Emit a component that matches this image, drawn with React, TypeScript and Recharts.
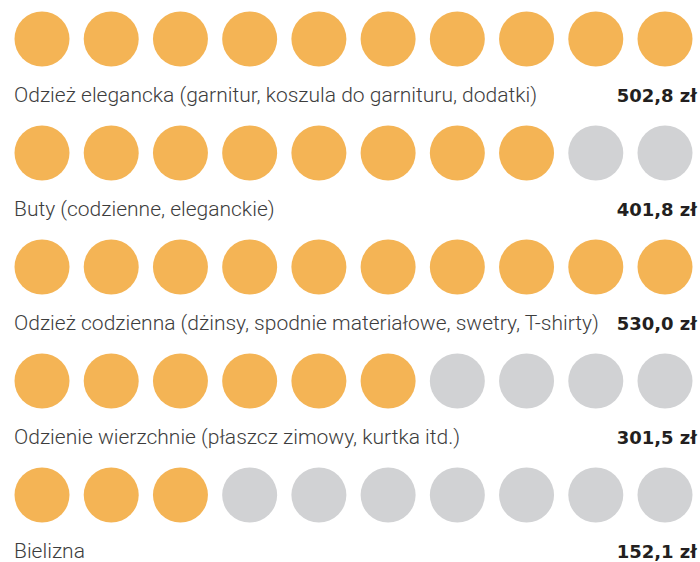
import { ScatterChart, Scatter, XAxis, YAxis } from "recharts";

const categories = [
  "Odzież elegancka (garnitur, koszula do garnituru, dodatki)",
  "Buty (codzienne, eleganckie)",
  "Odzież codzienna (dżinsy, spodnie materiałowe, swetry, T-shirty)",
  "Odzienie wierzchnie (płaszcz zimowy, kurtka itd.)",
  "Bielizna",
];
const amountLabels = ["502,8 zł", "401,8 zł", "530,0 zł", "301,5 zł", "152,1 zł"];
const filledDots = [10, 8, 10, 6, 3];
const dotsPerRow = 10;
const rowTicks = [0, 1, 2, 3, 4];

const ORANGE = "#F4B455";
const GREY = "#D1D2D4";

const dots = categories.flatMap((_, row) =>
  Array.from({ length: dotsPerRow }, (_, col) => ({ row, col, filled: col < filledDots[row] }))
);
const filled = dots.filter((d) => d.filled);
const empty = dots.filter((d) => !d.filled);

const renderRowTick = (props: any) => {
  const { y, payload } = props;
  const i = payload.value;
  return (
    <g key={`row-${i}`}>
      <text x={14} y={y + 63} fill="#3d3d3d" fontFamily="Roboto" fontWeight={300} fontSize={21}>
        {categories[i]}
      </text>
      <text
        x={697}
        y={y + 63}
        textAnchor="end"
        fill="#231F20"
        fontFamily="DejaVu Sans"
        fontWeight={700}
        fontSize={18}
      >
        {amountLabels[i]}
      </text>
    </g>
  );
};

const dot = (color: string) => (p: any) => <circle cx={p.cx} cy={p.cy} r={27.5} fill={color} />;

export default function App() {
  return (
    <div style={{ position: "absolute", left: 0, top: 0, background: "#fff" }}>
      <ScatterChart width={700} height={562} margin={{ top: 39, right: 35, left: 41, bottom: 67 }}>
        <XAxis type="number" dataKey="col" domain={[0, dotsPerRow - 1]} hide />
        <YAxis
          type="number"
          dataKey="row"
          domain={[0, 4]}
          ticks={rowTicks}
          interval={0}
          reversed
          width={1}
          axisLine={false}
          tickLine={false}
          tick={renderRowTick}
        />
        <Scatter data={filled} shape={dot(ORANGE)} isAnimationActive={false} />
        <Scatter data={empty} shape={dot(GREY)} isAnimationActive={false} />
      </ScatterChart>
    </div>
  );
}
